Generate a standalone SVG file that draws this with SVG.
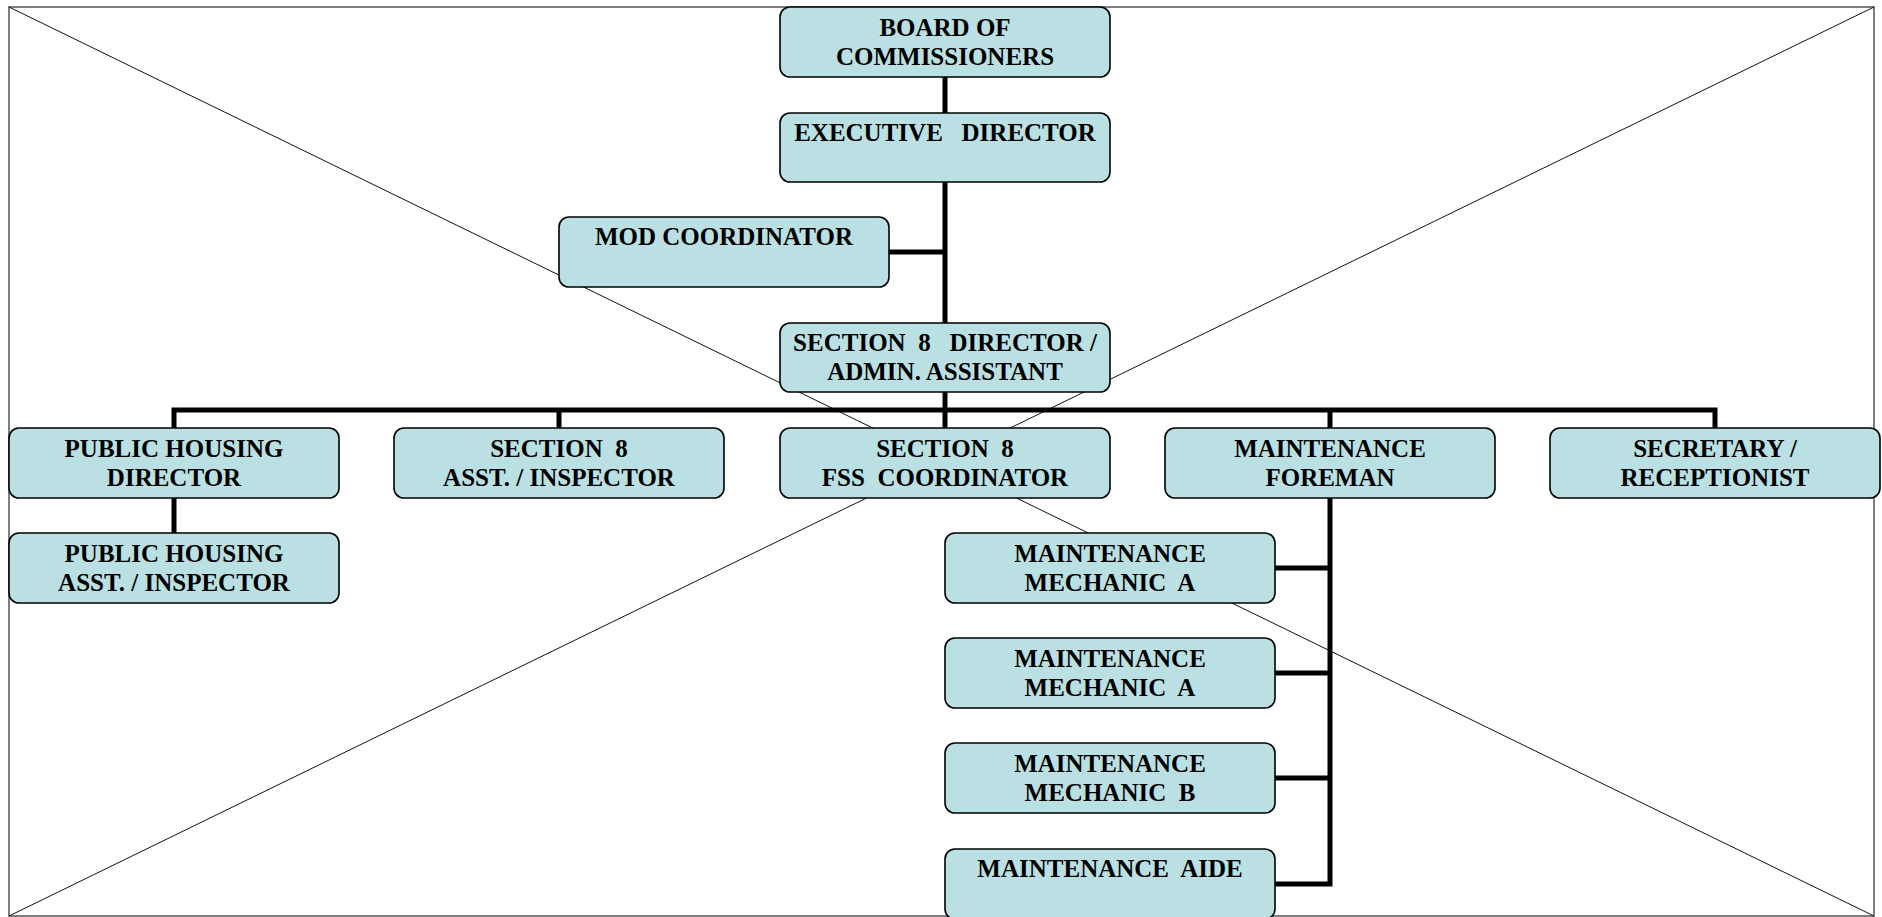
<svg xmlns="http://www.w3.org/2000/svg" width="1882" height="917" viewBox="0 0 1882 917">
<style>
.frame{fill:none;stroke:#7f7f7f;stroke-width:2}
.diag{stroke:#111;stroke-width:1}
.box{fill:#BBE0E3;stroke:#000;stroke-width:1.6}
.conn{fill:none;stroke:#000;stroke-width:5;stroke-linejoin:miter;stroke-linecap:butt}
text{font-family:"Liberation Serif","Times New Roman",serif;font-weight:bold;font-size:25px;fill:#000;text-anchor:middle}
</style>
<rect width="1882" height="917" fill="#fff"/>
<g id="background">
<rect class="frame" x="9" y="7" width="1865" height="909"/>
<line class="diag" x1="9" y1="7" x2="1874" y2="916"/>
<line class="diag" x1="1874" y1="7" x2="9" y2="916"/>
</g>
<g id="connectors">
<path class="conn" d="M945,77 V113"/>
<path class="conn" d="M945,182 V323"/>
<path class="conn" d="M889,252 H945"/>
<path class="conn" d="M945,392 V410"/>
<path class="conn" d="M174,428 V410 H1715 V428"/>
<path class="conn" d="M559,410 V428"/>
<path class="conn" d="M945,410 V428"/>
<path class="conn" d="M1330,410 V428"/>
<path class="conn" d="M174,498 V533"/>
<path class="conn" d="M1330,498 V884 H1275"/>
<path class="conn" d="M1275,568 H1330"/>
<path class="conn" d="M1275,673 H1330"/>
<path class="conn" d="M1275,778 H1330"/>
</g>
<g id="board">
<rect class="box" x="780" y="7" width="330" height="70" rx="10"/>
<text x="945" y="36">BOARD OF</text>
<text x="945" y="65">COMMISSIONERS</text>
</g>
<g id="executive-director">
<rect class="box" x="780" y="113" width="330" height="69" rx="10"/>
<text x="945" y="141" xml:space="preserve">EXECUTIVE   DIRECTOR</text>
</g>
<g id="mod-coordinator">
<rect class="box" x="559" y="217" width="330" height="70" rx="10"/>
<text x="724" y="245">MOD COORDINATOR</text>
</g>
<g id="section8-director">
<rect class="box" x="780" y="323" width="330" height="69" rx="10"/>
<text x="945" y="351" xml:space="preserve">SECTION  8   DIRECTOR /</text>
<text x="945" y="380">ADMIN. ASSISTANT</text>
</g>
<g id="public-housing-director">
<rect class="box" x="9" y="428" width="330" height="70" rx="10"/>
<text x="174" y="457">PUBLIC HOUSING</text>
<text x="174" y="486">DIRECTOR</text>
</g>
<g id="section8-inspector">
<rect class="box" x="394" y="428" width="330" height="70" rx="10"/>
<text x="559" y="457" xml:space="preserve">SECTION  8</text>
<text x="559" y="486">ASST. / INSPECTOR</text>
</g>
<g id="section8-fss">
<rect class="box" x="780" y="428" width="330" height="70" rx="10"/>
<text x="945" y="457" xml:space="preserve">SECTION  8</text>
<text x="945" y="486" xml:space="preserve">FSS  COORDINATOR</text>
</g>
<g id="maintenance-foreman">
<rect class="box" x="1165" y="428" width="330" height="70" rx="10"/>
<text x="1330" y="457">MAINTENANCE</text>
<text x="1330" y="486">FOREMAN</text>
</g>
<g id="secretary">
<rect class="box" x="1550" y="428" width="330" height="70" rx="10"/>
<text x="1715" y="457">SECRETARY /</text>
<text x="1715" y="486">RECEPTIONIST</text>
</g>
<g id="public-housing-inspector">
<rect class="box" x="9" y="533" width="330" height="70" rx="10"/>
<text x="174" y="562">PUBLIC HOUSING</text>
<text x="174" y="591">ASST. / INSPECTOR</text>
</g>
<g id="mechanic-a1">
<rect class="box" x="945" y="533" width="330" height="70" rx="10"/>
<text x="1110" y="562">MAINTENANCE</text>
<text x="1110" y="591" xml:space="preserve">MECHANIC  A</text>
</g>
<g id="mechanic-a2">
<rect class="box" x="945" y="638" width="330" height="70" rx="10"/>
<text x="1110" y="667">MAINTENANCE</text>
<text x="1110" y="696" xml:space="preserve">MECHANIC  A</text>
</g>
<g id="mechanic-b">
<rect class="box" x="945" y="743" width="330" height="70" rx="10"/>
<text x="1110" y="772">MAINTENANCE</text>
<text x="1110" y="801" xml:space="preserve">MECHANIC  B</text>
</g>
<g id="maintenance-aide">
<rect class="box" x="945" y="849" width="330" height="70" rx="10"/>
<text x="1110" y="877" xml:space="preserve">MAINTENANCE  AIDE</text>
</g>
</svg>
